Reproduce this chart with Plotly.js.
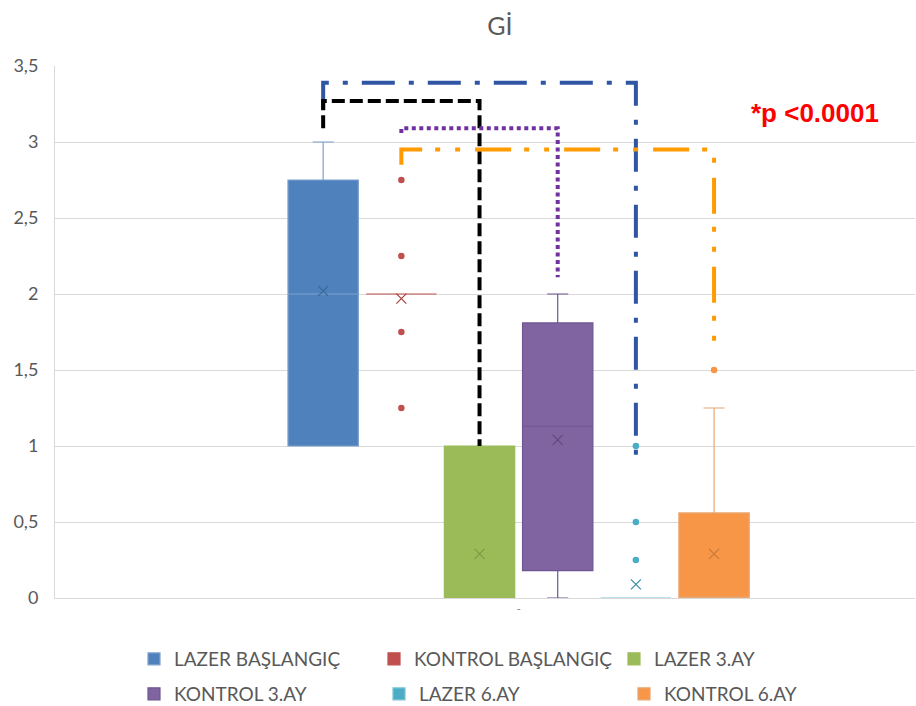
<!DOCTYPE html>
<html>
<head>
<meta charset="utf-8">
<script src="https://cdn.plot.ly/plotly-3.0.1.min.js"></script>
<style>html,body{margin:0;padding:0;background:#fff;}#chart{width:916px;height:706px;}</style>
</head>
<body>
<div id="chart"></div>
<script>
// ---- data ----
const seriesNames = ['LAZER BAŞLANGIÇ','KONTROL BAŞLANGIÇ','LAZER 3.AY','KONTROL 3.AY','LAZER 6.AY','KONTROL 6.AY'];
const lowerFence = [1.00, 2.00, 0.00, 0.00, 0.00, 0.00];
const q1Values   = [1.00, 2.00, 0.00, 0.18, 0.00, 0.00];
const medians    = [2.00, 2.00, 0.00, 1.13, 0.00, 0.00];
const q3Values   = [2.75, 2.00, 1.00, 1.81, 0.00, 0.56];
const upperFence = [3.00, 2.00, 1.00, 2.00, 0.00, 1.25];
const meanValues = [2.02, 1.97, 0.29, 1.04, 0.09, 0.29];
const outliers   = [[], [2.75, 2.25, 1.75, 1.25], [], [], [1.00, 0.50, 0.25], [1.50]];
const categoryLabel = ['-'];
const pValueText = '*p <0.0001';
// significance brackets: [from series, to series, bar height, left end, right end]
const brackets = [
  [0, 4, 3.39, 3.21, 0.92],
  [0, 2, 3.27, 3.09, 1.00],
  [1, 3, 3.09, 3.06, 2.11],
  [1, 5, 2.95, 2.85, 1.60]
];

// ---- styles ----
const colors = ['#4F81BD','#C0504D','#9BBB59','#8064A2','#4BACC6','#F79646'];
const lineColors = ['#7FA1CE','#C0504D','#9BBB59','#6E5591','#7DC3D6','#E9A672'];
const meanColors = ['#3E6A9E','#A8413E','#7E9A48','#5E4A7A','#3A8FA6','#C47A3C'];
const bracketStyles = [
  {color:'#2F55A4', dash:'33px,14px,5px,14px'},
  {color:'#000000', dash:'13px,5px'},
  {color:'#7030A0', dash:'4px,3.5px'},
  {color:'#FF9A00', dash:'36px,13px,5px,15px,5px,15px'}
];
const FONT = 'Lato, "Open Sans", sans-serif';

const traces = [];
seriesNames.forEach((name, i) => {
  traces.push({
    type:'box', name:name, x:[i],
    q1:[q1Values[i]], median:[medians[i]], q3:[q3Values[i]],
    lowerfence:[lowerFence[i]], upperfence:[upperFence[i]],
    width:0.9, whiskerwidth:0.3, boxpoints:false,
    fillcolor:colors[i], line:{color:lineColors[i], width:1.2},
    marker:{color:colors[i]}, hoverinfo:'skip',
    legendgroup:'g'+i, legend: i < 3 ? 'legend' : 'legend2'
  });
});
seriesNames.forEach((name, i) => {
  traces.push({
    type:'scatter', mode:'markers', x:[i], y:[meanValues[i]], showlegend:false,
    legendgroup:'g'+i, hoverinfo:'skip',
    marker:{symbol:'x-thin-open', size:10, line:{color:meanColors[i], width:1.2}, color:meanColors[i]}
  });
  if (outliers[i].length) {
    traces.push({
      type:'scatter', mode:'markers', x:outliers[i].map(() => i), y:outliers[i], showlegend:false,
      legendgroup:'g'+i, hoverinfo:'skip', cliponaxis:false,
      marker:{symbol:'circle', size:6.5, color:colors[i]}
    });
  }
});

const shapes = [];
brackets.forEach((b, k) => {
  const st = bracketStyles[k];
  shapes.push({
    type:'path', xref:'x', yref:'y', layer:'above',
    path:`M ${b[0]},${b[3]} L ${b[0]},${b[2]} L ${b[1]},${b[2]} L ${b[1]},${b[4]}`,
    line:{color:st.color, width:4, dash:st.dash}
  });
});

const legendFont = {family:FONT, size:19, color:'#595959'};
const layout = {
  width:916, height:706,
  margin:{l:55, r:1, t:66, b:108},
  paper_bgcolor:'#ffffff', plot_bgcolor:'#ffffff',
  separators:',.',
  font:{family:FONT, color:'#595959', size:16},
  title:{text:'Gİ', x:500/916, xanchor:'center', xref:'container', y:1-26/706, yref:'container', yanchor:'middle',
         font:{family:FONT, size:25, color:'#595959'}},
  showlegend:true,
  xaxis:{range:[-3.43, 7.57], showgrid:false, zeroline:false, showline:true, linecolor:'#D9D9D9', linewidth:1,
         tickvals:[2.5], ticktext:categoryLabel, ticks:'', tickfont:{size:12, color:'#8c8c8c'}, fixedrange:true},
  yaxis:{range:[0, 3.5], dtick:0.5, tick0:0, showgrid:true, gridcolor:'#D9D9D9', gridwidth:1, zeroline:false,
         showline:true, linecolor:'#D9D9D9', ticks:'', ticklabelstandoff:12, tickfont:{size:18, color:'#595959'}},
  legend:{orientation:'h', x:134/916, xref:'container', xanchor:'left', y:1-659/706, yref:'container', yanchor:'middle',
          entrywidth:195, entrywidthmode:'pixels', font:legendFont, bgcolor:'rgba(0,0,0,0)'},
  legend2:{orientation:'h', x:134/916, xref:'container', xanchor:'left', y:1-694/706, yref:'container', yanchor:'middle',
          entrywidth:200, entrywidthmode:'pixels', font:legendFont, bgcolor:'rgba(0,0,0,0)'},
  shapes:shapes,
  annotations:[{
    text:'<b>'+pValueText+'</b>', xref:'paper', yref:'paper', x:(815-55)/860, y:(598-113)/532,
    xanchor:'center', yanchor:'middle', showarrow:false,
    font:{family:'"Liberation Sans", Arial, sans-serif', size:26, color:'#FF0000'}
  }]
};

Plotly.newPlot('chart', traces, layout, {displayModeBar:false, staticPlot:true});
</script>
</body>
</html>
